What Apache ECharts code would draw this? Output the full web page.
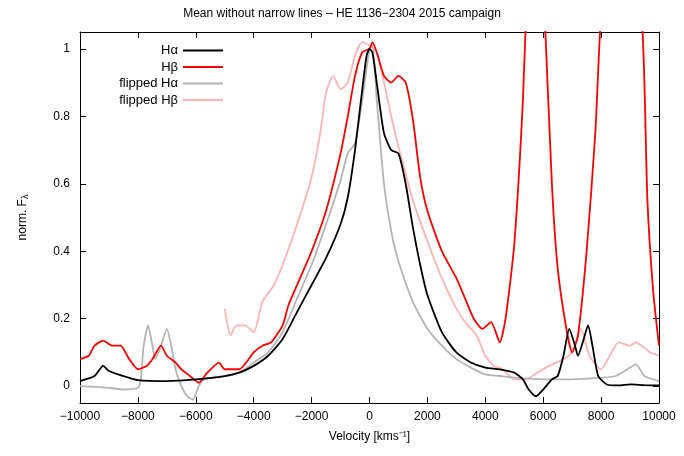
<!DOCTYPE html>
<html>
<head>
<meta charset="utf-8">
<script src="https://cdn.jsdelivr.net/npm/echarts@6/dist/echarts.min.js"></script>
<style>body{margin:0}#c{width:684px;height:456px}</style>
</head>
<body>
<div id="c"></div>
<script>
// H-alpha mean profile
var haV = [-10000,-9500,-9200,-9000,-8500,-8000,-7000,-6000,-5000,-4500,-4000,-3500,-3000,-2500,-2000,-1500,-1000,-750,-500,-250,-100,0,100,250,500,750,1000,1250,1500,1750,2000,2500,3000,3500,4000,4500,5000,5300,5500,5750,6000,6300,6500,6700,6900,7100,7200,7400,7550,7700,7900,8200,8600,9000,9500,10000];
var haF = [0.015,0.03,0.06,0.045,0.03,0.018,0.015,0.02,0.03,0.04,0.06,0.09,0.14,0.22,0.30,0.38,0.48,0.56,0.70,0.88,0.98,1.0,0.99,0.90,0.75,0.70,0.69,0.60,0.47,0.36,0.27,0.16,0.10,0.07,0.055,0.05,0.04,0.02,-0.01,-0.03,-0.01,0.02,0.03,0.09,0.17,0.12,0.09,0.14,0.18,0.12,0.03,0.005,0.002,0.005,0.003,0.002];
// H-beta mean profile
var hbV = [-10000,-9700,-9500,-9200,-8900,-8600,-8300,-8000,-7700,-7500,-7200,-7000,-6700,-6500,-6200,-5900,-5600,-5200,-5000,-4500,-4000,-3700,-3400,-3000,-2800,-2500,-2000,-1500,-1000,-750,-500,-250,0,100,250,500,750,1000,1250,1500,1750,2000,2500,3000,3300,3600,3900,4200,4500,4700,5000,5300,5500,5750,6050,6300,6500,6800,7000,7200,7500,7800,8000,8600,9400,9600,9800,10000];
var hbF = [0.08,0.09,0.12,0.135,0.12,0.12,0.08,0.05,0.06,0.08,0.12,0.09,0.07,0.05,0.03,0.01,0.04,0.07,0.05,0.05,0.10,0.12,0.13,0.18,0.24,0.30,0.40,0.52,0.69,0.80,0.92,0.99,1.0,1.02,0.99,0.92,0.90,0.92,0.90,0.79,0.62,0.52,0.40,0.32,0.26,0.20,0.17,0.19,0.13,0.20,0.42,0.85,1.3,1.6,1.1,0.6,0.35,0.17,0.10,0.15,0.40,0.75,1.1,1.6,1.1,0.55,0.28,0.12];
// flipped H-alpha
var fhaV = [-10000,-9000,-8500,-8000,-7900,-7800,-7650,-7500,-7400,-7200,-7000,-6850,-6700,-6500,-6300,-6100,-5900,-5700,-5000,-4500,-4000,-3500,-3000,-2500,-2000,-1500,-1000,-750,-500,-250,0,100,250,500,750,1000,1500,2000,2500,3000,3500,4000,4500,5000,6000,7000,8000,8500,9000,9200,9500,10000];
var fhaF = [0.0,-0.005,-0.01,-0.005,0.02,0.12,0.18,0.12,0.08,0.12,0.17,0.12,0.05,0.0,-0.03,-0.04,0.0,0.02,0.03,0.04,0.07,0.10,0.16,0.26,0.36,0.48,0.61,0.69,0.72,0.85,1.0,1.01,0.85,0.60,0.46,0.37,0.25,0.17,0.12,0.08,0.055,0.035,0.03,0.025,0.02,0.02,0.025,0.03,0.055,0.065,0.03,0.015];
// flipped H-beta
var fhbV = [-5000,-4800,-4600,-4300,-4000,-3700,-3300,-3000,-2500,-2000,-1700,-1500,-1250,-1000,-750,-500,-250,0,250,500,750,1000,1250,1500,2000,2500,3000,3300,3700,4000,4300,4600,5000,5400,5800,6200,6700,7000,7300,7600,8000,8300,8600,9000,9200,9400,9700,10000];
var fhbF = [0.23,0.15,0.18,0.18,0.16,0.25,0.30,0.36,0.48,0.62,0.75,0.87,0.92,0.88,0.90,0.98,1.02,1.01,0.99,0.90,0.80,0.71,0.63,0.55,0.43,0.32,0.23,0.19,0.15,0.09,0.06,0.05,0.02,0.02,0.04,0.06,0.08,0.10,0.17,0.09,0.05,0.09,0.13,0.12,0.13,0.12,0.10,0.09];
var xTicks = [-10000,-8000,-6000,-4000,-2000,0,2000,4000,6000,8000,10000];
var yTicks = [0,0.2,0.4,0.6,0.8,1];

function pairs(v, f) { return v.map(function (x, i) { return [x, f[i]]; }); }
var names = ['H\u03b1', 'H\u03b2', 'flipped H\u03b1', 'flipped H\u03b2'];
var colors = ['#000000', '#ff0000', '#b4b4b4', '#ffb4b4'];
var datas = [pairs(haV, haF), pairs(hbV, hbF), pairs(fhaV, fhaF), pairs(fhbV, fhbF)];
var font = 'Liberation Sans, Arial, sans-serif';
var series = [];
var legends = [];
// draw order: flipped first so mean lines on top
[3, 2, 1, 0].forEach(function (i) {
    series.push({
        name: names[i], type: 'line', data: datas[i], smooth: 0.2, showSymbol: false,
        clip: true, z: 10 - i,
        lineStyle: { color: colors[i], width: 1.8 }, itemStyle: { color: colors[i] }
    });
});
names.forEach(function (n, i) {
    legends.push({
        data: [n], right: 456, top: 39 + i * 16.5, align: 'right', itemWidth: 40, itemHeight: 2, itemGap: 4,
        icon: 'rect',
        textStyle: { fontFamily: font, fontSize: 13, color: '#000' }
    });
});
var axisCommon = {
    type: 'value', min: -10000, max: 10000,
    axisLine: { onZero: false, lineStyle: { color: '#000', width: 1 } },
    splitLine: { show: false },
    axisTick: { inside: true, length: 6, customValues: xTicks, lineStyle: { color: '#000' } }
};
var option = {
    animation: false,
    title: { text: 'Mean without narrow lines \u2013 HE 1136\u22122304 2015 campaign', left: 'center', top: 3,
        textStyle: { fontFamily: font, fontSize: 12, fontWeight: 'normal', color: '#000' } },
    legend: legends,
    grid: { left: 80, right: 25, top: 32, bottom: 53 },
    xAxis: [
        Object.assign({}, axisCommon, {
            position: 'bottom',
            axisLabel: { customValues: xTicks, fontFamily: font, fontSize: 12, color: '#000', margin: 8,
                formatter: function (v) { return String(v).replace('-', '\u2212'); } },
            name: 'Velocity [kms\u207b\u00b9]', nameLocation: 'middle', nameGap: 28,
            nameTextStyle: { fontFamily: font, fontSize: 12, color: '#000' }
        }),
        Object.assign({}, axisCommon, { position: 'top', axisLabel: { show: false } })
    ],
    yAxis: [
        {
            type: 'value', min: -0.05, max: 1.05, position: 'left',
            axisLine: { show: true, onZero: false, lineStyle: { color: '#000' } }, splitLine: { show: false },
            axisTick: { inside: true, length: 6, customValues: yTicks, lineStyle: { color: '#000' } },
            axisLabel: { customValues: yTicks, fontFamily: font, fontSize: 12, color: '#000', margin: 10,
                formatter: function (v) { return v === 0 ? '0' : String(Math.round(v * 10) / 10); } },
            name: 'norm. F{s|\u03bb}', nameLocation: 'middle', nameGap: 50, nameRotate: 90,
            nameTextStyle: { fontFamily: font, fontSize: 12, color: '#000', rich: { s: { fontSize: 9, padding: [6, 0, 0, 0], fontFamily: font } } }
        },
        {
            type: 'value', min: -0.05, max: 1.05, position: 'right',
            axisLine: { show: true, onZero: false, lineStyle: { color: '#000' } }, splitLine: { show: false },
            axisTick: { inside: true, length: 6, customValues: yTicks, lineStyle: { color: '#000' } },
            axisLabel: { show: false }
        }
    ],
    series: series
};
var chart = echarts.init(document.getElementById('c'));
chart.setOption(option);
</script>
</body>
</html>
